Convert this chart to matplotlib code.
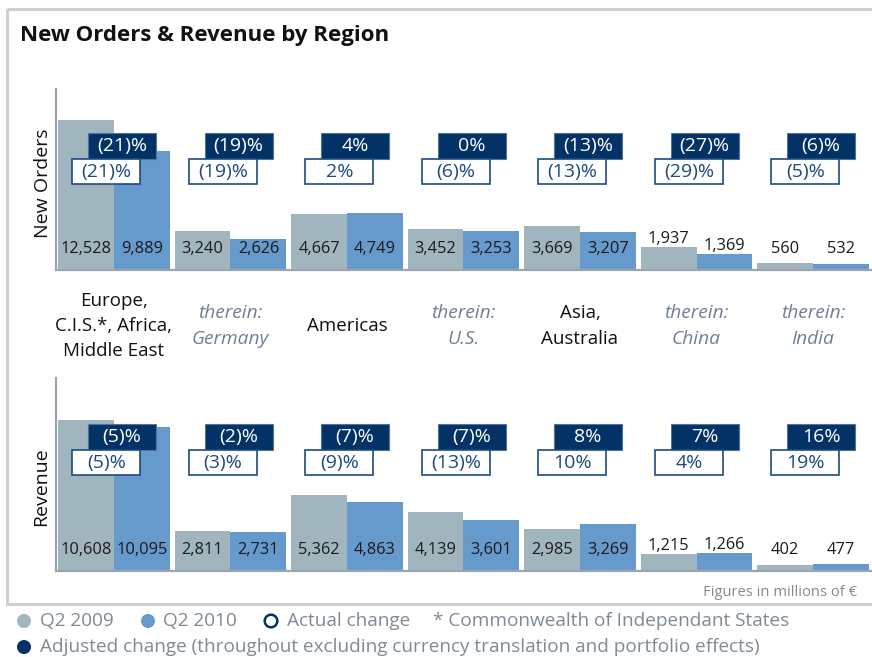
import numpy as np
import matplotlib
matplotlib.use("Agg")
import matplotlib.pyplot as plt
from matplotlib.patches import Rectangle, Circle
from matplotlib.transforms import blended_transform_factory

plt.rcParams['font.family'] = ['Open Sans', 'DejaVu Sans']

# ---------------- data ----------------
categories = ["Europe,\nC.I.S.*, Africa,\nMiddle East", "therein:\nGermany", "Americas",
              "therein:\nU.S.", "Asia,\nAustralia", "therein:\nChina", "therein:\nIndia"]
is_sub = [False, True, False, True, False, True, True]

orders_2009 = [12528, 3240, 4667, 3452, 3669, 1937, 560]
orders_2010 = [9889, 2626, 4749, 3253, 3207, 1369, 532]
orders_adj = ["(21)%", "(19)%", "4%", "0%", "(13)%", "(27)%", "(6)%"]
orders_act = ["(21)%", "(19)%", "2%", "(6)%", "(13)%", "(29)%", "(5)%"]

revenue_2009 = [10608, 2811, 5362, 4139, 2985, 1215, 402]
revenue_2010 = [10095, 2731, 4863, 3601, 3269, 1266, 477]
revenue_adj = ["(5)%", "(2)%", "(7)%", "(7)%", "8%", "7%", "16%"]
revenue_act = ["(5)%", "(3)%", "(9)%", "(13)%", "10%", "4%", "19%"]

# ---------------- style ----------------
C_GRAY = "#a1b5bf"
C_BLUE = "#6699cc"
C_NAVY = "#033366"
C_NAVY_TXT = "#1d4a80"
C_SPINE = "#9aa5ae"
C_SUB = "#6f7f93"
C_NOTE = "#7f8a95"

W, H = 872, 657
fig = plt.figure(figsize=(W / 100, H / 100), dpi=100)


def px_axes(l, t, r, b):
    return fig.add_axes([l / W, 1 - b / H, (r - l) / W, (b - t) / H])


ov = fig.add_axes([0, 0, 1, 1], zorder=5)
ov.set_xlim(0, W)
ov.set_ylim(H, 0)
ov.axis('off')
ov.patch.set_alpha(0)

ax1 = px_axes(56, 89, 872, 270)
ax2 = px_axes(56, 378, 872, 571)

x = np.arange(len(categories))
bw = 0.48


def draw_panel(ax, v09, v10, adj, act, ymax, dark_y, white_y):
    ax.bar(x - bw / 2, v09, width=bw, color=C_GRAY, zorder=2)
    ax.bar(x + bw / 2, v10, width=bw, color=C_BLUE, zorder=2)
    ax.set_xlim(-0.497, 6.506)
    ax.set_ylim(0, ymax)
    for s in ['top', 'right']:
        ax.spines[s].set_visible(False)
    for s in ['left', 'bottom']:
        ax.spines[s].set_color(C_SPINE)
        ax.spines[s].set_linewidth(1.6)
    ax.set_xticks([])
    ax.set_yticks([])
    ax.patch.set_alpha(0)
    fig.canvas.draw()
    # value labels
    for xs, vals in ((x - bw / 2, v09), (x + bw / 2, v10)):
        for xi, v in zip(xs, vals):
            hpx = ax.transData.transform((0, v))[1] - ax.transData.transform((0, 0))[1]
            off = 21 if hpx > 28 else max(21, hpx + 8)
            ax.annotate(f"{v:,}", (xi, 0), xytext=(0, off), textcoords='offset pixels',
                        ha='center', va='center', fontsize=11.8, color='#1a1a1a', zorder=4)
    tr = blended_transform_factory(ax.transData, ax.transAxes)
    bwid = 0.584
    for i in range(len(x)):
        cx = i + 0.07
        ax.add_patch(Rectangle((cx - bwid / 2, dark_y[0]), bwid, dark_y[1] - dark_y[0],
                               transform=tr, facecolor=C_NAVY, edgecolor="#53739a",
                               lw=0.8, zorder=5, clip_on=False))
        ax.text(cx, (dark_y[0] + dark_y[1]) / 2, adj[i], transform=tr, ha='center',
                va='center', fontsize=14, color='white', zorder=6)
        cx = i - 0.065
        ax.add_patch(Rectangle((cx - bwid / 2, white_y[0]), bwid, white_y[1] - white_y[0],
                               transform=tr, facecolor='white', edgecolor=C_NAVY_TXT,
                               lw=1.2, zorder=5, clip_on=False))
        ax.text(cx, (white_y[0] + white_y[1]) / 2, act[i], transform=tr, ha='center',
                va='center', fontsize=14, color=C_NAVY_TXT, zorder=6)


draw_panel(ax1, orders_2009, orders_2010, orders_adj, orders_act, 15100,
           (0.613, 0.757), (0.475, 0.613))
draw_panel(ax2, revenue_2009, revenue_2010, revenue_adj, revenue_act, 13560,
           (0.627, 0.762), (0.497, 0.627))

# frame
ov.add_patch(Rectangle((7, 9), 900, 595, facecolor='none', edgecolor='#cfcfcf', lw=2.2))

# title
ov.text(20, 35, "New Orders & Revenue by Region", fontsize=16, fontweight='bold',
        ha='left', va='center', color='#111111')

# y labels
ov.text(43, 183, "New Orders", rotation=90, fontsize=14, ha='center', va='center', color='#111111')
ov.text(41, 487, "Revenue", rotation=90, fontsize=14, ha='center', va='center', color='#111111')

# category labels
trc = blended_transform_factory(ax1.transData, ov.transData)
for i, lab in enumerate(categories):
    if is_sub[i]:
        ov.text(i, 326, lab, transform=trc, ha='center', va='center', fontsize=13.8,
                style='italic', color=C_SUB, linespacing=1.5)
    else:
        ov.text(i, 326, lab, transform=trc, ha='center', va='center', fontsize=13.5,
                color='#111111', linespacing=1.5)

# footnote
ov.text(857, 592, "Figures in millions of €", ha='right', va='center', fontsize=10.6, color=C_NOTE)

# legend
LF = 13.7
ov.add_patch(Circle((24, 621), 7, facecolor=C_GRAY, edgecolor='none'))
ov.text(40, 621, "Q2 2009", ha='left', va='center', fontsize=LF, color=C_NOTE)
ov.add_patch(Circle((148, 621), 7, facecolor=C_BLUE, edgecolor='none'))
ov.text(163, 621, "Q2 2010", ha='left', va='center', fontsize=LF, color=C_NOTE)
ov.add_patch(Circle((271, 621), 6.3, facecolor='white', edgecolor=C_NAVY, lw=1.8))
ov.text(287, 621, "Actual change", ha='left', va='center', fontsize=LF, color=C_NOTE)
ov.text(433, 621, "* Commonwealth of Independant States", ha='left', va='center',
        fontsize=LF, color=C_NOTE)
ov.add_patch(Circle((24, 647), 7, facecolor=C_NAVY, edgecolor='none'))
ov.text(40, 647, "Adjusted change (throughout excluding currency translation and portfolio effects)",
        ha='left', va='center', fontsize=LF, color=C_NOTE)

fig.savefig("out.png", dpi=100)
